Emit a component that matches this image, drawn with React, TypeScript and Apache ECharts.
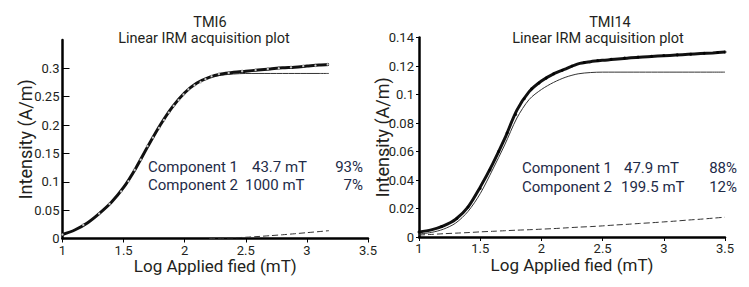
import React, { useEffect, useRef } from "react";
import * as echarts from "echarts";

// ---------- data ----------
const titlesTop = ["TMI6", "TMI14"];
const subtitle = "Linear IRM acquisition plot";
const xAxisName = "Log Applied fied (mT)";
const yAxisName = "Intensity (A/m)";

// Left chart (TMI6)
const leftFitX = [1.0, 1.1, 1.2, 1.3, 1.4, 1.5, 1.6, 1.7, 1.8, 1.9, 2.0, 2.1, 2.2, 2.3, 2.4, 2.5, 2.6, 2.7, 2.8, 2.9, 3.0, 3.1, 3.18];
const leftTotal = [0.007, 0.015, 0.027, 0.044, 0.064, 0.090, 0.124, 0.163, 0.200, 0.232, 0.257, 0.274, 0.284, 0.290, 0.293, 0.295, 0.297, 0.299, 0.301, 0.302, 0.304, 0.306, 0.307];
const leftComp1 = [0.007, 0.015, 0.027, 0.044, 0.064, 0.090, 0.124, 0.163, 0.200, 0.232, 0.257, 0.274, 0.284, 0.288, 0.290, 0.291, 0.291, 0.291, 0.291, 0.291, 0.291, 0.291, 0.291];
const leftComp2X = [2.2, 2.3, 2.4, 2.5, 2.6, 2.7, 2.8, 2.9, 3.0, 3.1, 3.18];
const leftComp2 = [0.0, 0.0005, 0.0012, 0.0022, 0.0035, 0.005, 0.0066, 0.0084, 0.0103, 0.0122, 0.0138];
const leftDataX = [1.0, 1.17, 1.3, 1.385, 1.48, 1.54, 1.59, 1.64, 1.695, 1.74, 1.79, 1.83, 1.87, 1.91, 1.95, 1.99, 2.03, 2.08, 2.13, 2.17, 2.22, 2.28, 2.36, 2.47, 2.58, 2.68, 2.77, 2.87, 2.97, 3.07, 3.17];
const leftDataY = [0.007, 0.024, 0.044, 0.061, 0.083, 0.101, 0.121, 0.139, 0.163, 0.178, 0.195, 0.209, 0.222, 0.234, 0.244, 0.254, 0.263, 0.270, 0.276, 0.281, 0.286, 0.290, 0.292, 0.295, 0.297, 0.299, 0.300, 0.302, 0.304, 0.305, 0.307];
const leftComponents = [
  ["Component 1", "43.7 mT", "93%"],
  ["Component 2", "1000 mT", "7%"],
];

// Right chart (TMI14)
const rightFitX = [1.0, 1.1, 1.2, 1.3, 1.4, 1.5, 1.6, 1.7, 1.8, 1.9, 2.0, 2.1, 2.2, 2.3, 2.4, 2.5, 2.6, 2.7, 2.8, 2.9, 3.0, 3.1, 3.2, 3.3, 3.4, 3.5];
const rightTotal = [0.0035, 0.005, 0.0078, 0.0125, 0.021, 0.035, 0.051, 0.069, 0.089, 0.102, 0.1095, 0.1145, 0.118, 0.1215, 0.123, 0.124, 0.1248, 0.1255, 0.1262, 0.1267, 0.1272, 0.1277, 0.1282, 0.1287, 0.1292, 0.1298];
const rightComp1 = [0.0021, 0.0032, 0.0055, 0.0098, 0.0179, 0.0304, 0.047, 0.0646, 0.0835, 0.0965, 0.1035, 0.1085, 0.1122, 0.1145, 0.1154, 0.1157, 0.1157, 0.1157, 0.1157, 0.1157, 0.1157, 0.1157, 0.1157, 0.1157, 0.1157, 0.1157];
const rightComp2 = [0.0014, 0.0018, 0.0023, 0.0027, 0.0031, 0.0036, 0.004, 0.0044, 0.0048, 0.0051, 0.0055, 0.0059, 0.0064, 0.0069, 0.0073, 0.0078, 0.0084, 0.0089, 0.0095, 0.01, 0.0106, 0.0112, 0.0119, 0.0125, 0.0132, 0.0139];
const rightDataX = [1.0, 1.185, 1.31, 1.4, 1.5, 1.58, 1.65, 1.72, 1.79, 1.86, 1.92, 1.98, 2.04, 2.1, 2.17, 2.25, 2.35, 2.46, 2.57, 2.68, 2.79, 2.9, 3.0, 3.11, 3.22, 3.33, 3.44, 3.5];
const rightDataY = [0.0035, 0.0073, 0.013, 0.021, 0.034, 0.047, 0.06, 0.073, 0.086, 0.097, 0.104, 0.108, 0.1115, 0.1145, 0.117, 0.12, 0.1225, 0.1238, 0.1247, 0.1256, 0.1262, 0.1268, 0.1273, 0.1278, 0.1283, 0.1289, 0.1295, 0.1298];
const rightComponents = [
  ["Component 1", "47.9 mT", "88%"],
  ["Component 2", "199.5 mT", "12%"],
];

const zip = (xs: number[], ys: number[]) => xs.map((x, i) => [x, ys[i]]);

const FONT = "Roboto";
const TXT = "#231f20";
const NAVY = "#1e2b48";

export default function App() {
  const ref = useRef<HTMLDivElement>(null);
  useEffect(() => {
    document.body.style.margin = "0";
    if (!ref.current) return;
    const chart = echarts.init(ref.current, undefined, { renderer: "svg" });

    const xAxisBase = (gridIndex: number) => ({
      type: "value",
      gridIndex,
      min: 1,
      max: 3.5,
      interval: 0.5,
      name: xAxisName,
      nameLocation: "middle",
      nameGap: 19,
      nameMoveOverlap: false,
      nameTextStyle: { fontFamily: FONT, fontSize: 17, color: TXT },
      axisLine: { show: true, onZero: false, lineStyle: { color: "#000", width: 2.5 } },
      axisTick: { show: true, inside: false, length: 4, lineStyle: { color: "#000", width: 1 } },
      axisLabel: { fontFamily: FONT, fontSize: 13, color: TXT, margin: 5 },
      splitLine: { show: false },
    });

    const yAxisBase = (gridIndex: number, max: number, interval: number, inside: boolean, hideMax: boolean) => ({
      type: "value",
      gridIndex,
      min: 0,
      max,
      interval,
      name: yAxisName,
      nameLocation: "middle",
      nameGap: 28,
      nameMoveOverlap: false,
      nameTextStyle: { fontFamily: FONT, fontSize: 18, color: TXT },
      axisLine: { show: true, onZero: false, lineStyle: { color: "#000", width: 2.5 } },
      axisTick: { show: true, inside, length: inside ? 7 : 3, lineStyle: { color: "#000", width: 1 } },
      axisLabel: { fontFamily: FONT, fontSize: 13, color: TXT, margin: inside ? 3 : 5, showMaxLabel: !hideMax },
      splitLine: { show: false },
    });

    const textEl = (x: number, y: number, text: string, align: string, size: number, fill: string) => ({
      type: "text",
      x,
      y,
      style: { text, fill, fontFamily: FONT, fontSize: size, align, verticalAlign: "middle" },
    });

    const compTexts = (rows: string[][], x1: number, x2s: number[], x3: number, ys: number[]) =>
      rows.flatMap((r, i) => [
        textEl(x1, ys[i], r[0], "left", 15, NAVY),
        textEl(x2s[i], ys[i], r[1], "left", 15, NAVY),
        textEl(x3, ys[i], r[2], "right", 15, NAVY),
      ]);

    const option: any = {
      animation: false,
      grid: [
        { left: 62.5, top: 40, width: 305.5, height: 198.5 },
        { left: 419, top: 37.5, width: 306, height: 199.5 },
      ],
      xAxis: [xAxisBase(0), xAxisBase(1)],
      yAxis: [yAxisBase(0, 0.35, 0.05, true, true), yAxisBase(1, 0.14, 0.02, false, false)],
      series: [
        // Left
        { type: "line", xAxisIndex: 0, yAxisIndex: 0, data: zip(leftFitX, leftComp1), smooth: 0.3, showSymbol: false, lineStyle: { color: "#333", width: 1 }, z: 2 },
        { type: "line", xAxisIndex: 0, yAxisIndex: 0, data: zip(leftComp2X, leftComp2), smooth: 0.3, showSymbol: false, lineStyle: { color: "#333", width: 1, type: [6, 3] }, z: 2 },
        { type: "line", xAxisIndex: 0, yAxisIndex: 0, data: zip(leftFitX, leftTotal), smooth: 0.3, showSymbol: false, lineStyle: { color: "#111", width: 3 }, z: 3 },
        { type: "scatter", xAxisIndex: 0, yAxisIndex: 0, data: zip(leftDataX, leftDataY), symbol: "circle", symbolSize: 2.5, itemStyle: { color: "#fff", borderColor: "#000", borderWidth: 0.3 }, z: 4 },
        // Right
        { type: "line", xAxisIndex: 1, yAxisIndex: 1, data: zip(rightFitX, rightComp1), smooth: 0.3, showSymbol: false, lineStyle: { color: "#333", width: 1 }, z: 2 },
        { type: "line", xAxisIndex: 1, yAxisIndex: 1, data: zip(rightFitX, rightComp2), smooth: 0.3, showSymbol: false, lineStyle: { color: "#333", width: 1, type: [6, 3] }, z: 2 },
        { type: "line", xAxisIndex: 1, yAxisIndex: 1, data: zip(rightFitX, rightTotal), smooth: 0.3, showSymbol: false, lineStyle: { color: "#111", width: 3 }, z: 3 },
        { type: "scatter", xAxisIndex: 1, yAxisIndex: 1, data: zip(rightDataX, rightDataY), symbol: "circle", symbolSize: 3, itemStyle: { color: "#000" }, z: 4 },
      ],
      graphic: [
        textEl(210, 22, titlesTop[0], "center", 14.5, TXT),
        textEl(204, 38.5, subtitle, "center", 14.5, TXT),
        textEl(610, 22, titlesTop[1], "center", 14.5, TXT),
        textEl(598, 38.5, subtitle, "center", 14.5, TXT),
        ...compTexts(leftComponents, 148, [252, 245], 363, [167, 185]),
        ...compTexts(rightComponents, 522, [624, 621], 737, [168, 187]),
      ],
    };
    chart.setOption(option);
    return () => chart.dispose();
  }, []);
  return <div ref={ref} style={{ width: 749, height: 287 }} />;
}
